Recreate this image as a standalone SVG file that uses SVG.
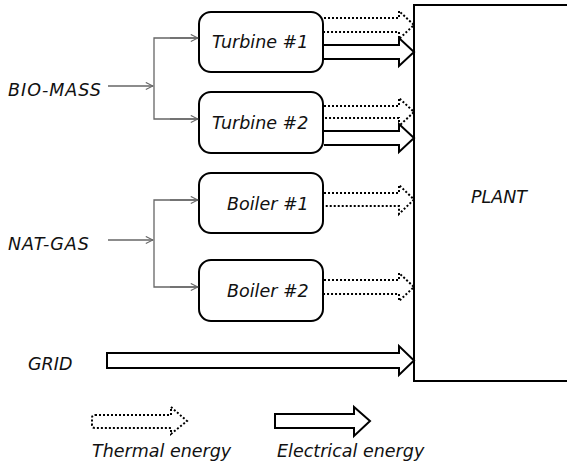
<svg xmlns="http://www.w3.org/2000/svg" width="567" height="466" viewBox="0 0 567 466">
<defs>
<marker id="open" viewBox="0 0 10 10" refX="9" refY="5" markerWidth="9" markerHeight="9" markerUnits="userSpaceOnUse" orient="auto">
<path d="M1,1 L9,5 L1,9" fill="none" stroke="#666" stroke-width="1.2"/>
</marker>
<style>
.t{font-family:"DejaVu Sans","Open Sans",sans-serif;font-style:italic;font-size:17.5px;fill:#111}
.w{letter-spacing:1px}
.box{fill:#fff;stroke:#000;stroke-width:2}
.feed{fill:none;stroke:#666;stroke-width:1.3}
.el{fill:#fff;stroke:#000;stroke-width:2;stroke-linejoin:miter}
.th{fill:none;stroke:#000;stroke-width:2;stroke-dasharray:2 2}
</style>
</defs>
<rect width="567" height="466" fill="#fff"/>

<g id="plant">
<rect class="box" x="414" y="5" width="170" height="376"/>
<text class="t" x="471" y="203">PLANT</text>
</g>

<g id="biomass"><text class="t w" x="8" y="96">BIO-MASS</text></g>
<g id="natgas"><text class="t w" x="8" y="250">NAT-GAS</text></g>
<g id="grid"><text class="t" x="28" y="370">GRID</text></g>

<g id="turbine1">
<rect class="box" x="199" y="12" width="124" height="60" rx="12"/>
<text class="t" x="212" y="48">Turbine #1</text>
</g>
<g id="turbine2">
<rect class="box" x="199" y="92" width="124" height="61" rx="12"/>
<text class="t" x="212" y="129">Turbine #2</text>
</g>
<g id="boiler1">
<rect class="box" x="199" y="173" width="124" height="60" rx="12"/>
<text class="t" x="227" y="210">Boiler #1</text>
</g>
<g id="boiler2">
<rect class="box" x="199" y="260" width="124" height="61" rx="12"/>
<text class="t" x="227" y="297">Boiler #2</text>
</g>

<g id="connectors">
<path class="feed" d="M108,86 H153" marker-end="url(#open)"/>
<path class="feed" d="M198,38 H154 V119 H198"/>
<path class="feed" d="M170,38 H198" marker-end="url(#open)"/>
<path class="feed" d="M170,119 H198" marker-end="url(#open)"/>
<path class="feed" d="M108,240 H153" marker-end="url(#open)"/>
<path class="feed" d="M198,200 H154 V287 H198"/>
<path class="feed" d="M170,200 H198" marker-end="url(#open)"/>
<path class="feed" d="M170,287 H198" marker-end="url(#open)"/>

<path class="th" d="M324,18 H399 V11 L414,25 L399,39 V32 H324"/>
<path class="el" d="M324,45 H399 V38 L414,52 L399,66 V59 H324"/>
<path class="th" d="M324,106 H399 V98 L414,112 L399,126 V118 H324"/>
<path class="el" d="M324,131 H399 V124 L414,138 L399,152 V145 H324"/>
<path class="th" d="M324,193 H399 V185 L414,199.5 L399,214 V206 H324"/>
<path class="th" d="M324,280 H399 V273 L414,287 L399,301 V294 H324"/>
<path class="el" d="M107,353 H399 V346 L414,360.5 L399,375 V368 H107 Z"/>
</g>

<g id="legend">
<path class="th" d="M95,415 H171 V407 L187,421 L171,434 V428 H95 Q92,428 92,425 V418 Q92,415 95,415 Z"/>
<text class="t" x="92" y="457">Thermal energy</text>
<path class="el" d="M275,414 H354 V407 L370,421 L354,436 V428 H275 Z"/>
<text class="t" x="277" y="457">Electrical energy</text>
</g>
</svg>
